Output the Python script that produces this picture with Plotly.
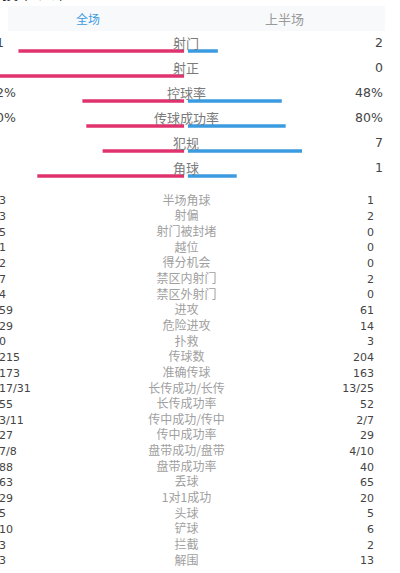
import plotly.graph_objects as go

# ---------------- data ----------------
bar_labels = ["射门", "射正", "控球率", "传球成功率", "犯规", "角球"]
bar_left = [11, 3, 52, 80, 5, 3]
bar_right = [2, 0, 48, 80, 7, 1]
bar_is_pct = [False, False, True, True, False, False]

table_labels = ["半场角球", "射偏", "射门被封堵", "越位", "得分机会", "禁区内射门",
                "禁区外射门", "进攻", "危险进攻", "扑救", "传球数", "准确传球",
                "长传成功/长传", "长传成功率", "传中成功/传中", "传中成功率",
                "盘带成功/盘带", "盘带成功率", "丢球", "1对1成功", "头球", "铲球",
                "拦截", "解围"]
table_left = ["3", "3", "5", "1", "2", "7", "4", "59", "29", "0", "215", "173",
              "17/31", "55", "3/11", "27", "7/8", "88", "63", "29", "5", "10", "3", "3"]
table_right = ["1", "2", "0", "0", "0", "2", "0", "61", "14", "3", "204", "163",
               "13/25", "52", "2/7", "29", "4/10", "40", "65", "20", "5", "6", "2", "13"]

tabs = ["全场", "上半场"]
title_text = "技术统计"

# ---------------- style ----------------
W, H = 400, 573
PINK = "#e0326e"
BLUE = "#3b9be0"
CJK = "Noto Sans CJK SC"
NUM = "DejaVu Sans, Noto Sans"
HALF = 196.0          # px for share = 1
PINK_END = 184.3      # px, where pink bars end (center)
BLUE_START = 187.7    # px, where blue bars start
BAR_Y0, BAR_STEP = 51.0, 25.0
TAB_Y0, TAB_STEP = 201.7, 15.65

left_share = [l / (l + r) if (l + r) else 0 for l, r in zip(bar_left, bar_right)]
right_share = [r / (l + r) if (l + r) else 0 for l, r in zip(bar_left, bar_right)]
rows = list(range(len(bar_labels)))

fig = go.Figure()
fig.add_trace(go.Bar(x=[-s for s in left_share], y=rows, orientation="h",
                     xaxis="x2", yaxis="y2", width=3.4 / BAR_STEP,
                     marker=dict(color=PINK, line=dict(width=0)), hoverinfo="skip"))
fig.add_trace(go.Bar(x=right_share, y=rows, orientation="h",
                     xaxis="x3", yaxis="y2", width=3.4 / BAR_STEP,
                     marker=dict(color=BLUE, line=dict(width=0)), hoverinfo="skip"))

def fmt(v, pct):
    return f"{v}%" if pct else f"{v}"

ann = []
for i, lab in enumerate(bar_labels):
    ann.append(dict(x=186, y=i - 8.5 / BAR_STEP, xref="x", yref="y2", text=lab,
                    showarrow=False, xanchor="center", yanchor="middle",
                    font=dict(family=CJK, size=13, color="#7a7a7a")))
    ann.append(dict(x=0, xshift=-14, y=i - 8.5 / BAR_STEP, xref="x", yref="y2",
                    text=fmt(bar_left[i], bar_is_pct[i]), showarrow=False,
                    xanchor="left", yanchor="middle",
                    font=dict(family=NUM, size=12.5, color="#444444")))
    ann.append(dict(x=385, y=i - 8.5 / BAR_STEP, xref="x", yref="y2",
                    text=fmt(bar_right[i], bar_is_pct[i]), showarrow=False,
                    xanchor="right", yanchor="middle",
                    font=dict(family=NUM, size=12.5, color="#444444")))

trows = list(range(len(table_labels)))
fig.add_trace(go.Scatter(x=[186.5] * len(trows), y=trows, mode="text", text=table_labels,
                         textposition="middle center", xaxis="x", yaxis="y3",
                         textfont=dict(family=CJK, size=12, color="#a0a0a0"),
                         hoverinfo="skip"))
fig.add_trace(go.Scatter(x=[-1] * len(trows), y=trows, mode="text", text=table_left,
                         textposition="middle right", xaxis="x", yaxis="y3",
                         textfont=dict(family=NUM, size=11, color="#444444"),
                         hoverinfo="skip"))
fig.add_trace(go.Scatter(x=[374] * len(trows), y=trows, mode="text", text=table_right,
                         textposition="middle left", xaxis="x", yaxis="y3",
                         textfont=dict(family=NUM, size=11, color="#444444"),
                         hoverinfo="skip"))

# header
ann.append(dict(x=88, y=18, xref="x", yref="y", text=tabs[0], showarrow=False,
                font=dict(family=CJK, size=12, color=BLUE)))
ann.append(dict(x=284, y=18, xref="x", yref="y", text=tabs[1], showarrow=False,
                font=dict(family=CJK, size=13, color="#9a9a9a")))
ann.append(dict(x=0, y=0, yshift=8, xref="x", yref="y", text=title_text, showarrow=False,
                xanchor="left", yanchor="middle",
                font=dict(family=CJK, size=16, color="#222222")))

shapes = [dict(type="rect", xref="x", yref="y", x0=8, x1=385, y0=6, y1=31,
               fillcolor="#f8f9fb", line=dict(width=0), layer="below")]

hidden = dict(visible=False, showgrid=False, zeroline=False, fixedrange=True)
fig.update_layout(
    width=W, height=H, margin=dict(l=0, r=0, t=0, b=0),
    paper_bgcolor="white", plot_bgcolor="rgba(0,0,0,0)", showlegend=False,
    barmode="overlay",
    xaxis=dict(range=[0, W], domain=[0, 1], **hidden),
    yaxis=dict(range=[H, 0], domain=[0, 1], **hidden),
    xaxis2=dict(range=[-PINK_END / HALF, 0], domain=[0, PINK_END / W],
                anchor="y2", **hidden),
    xaxis3=dict(range=[0, (W - BLUE_START) / HALF], domain=[BLUE_START / W, 1],
                anchor="y2", **hidden),
    yaxis2=dict(range=[(H - BAR_Y0) / BAR_STEP, -BAR_Y0 / BAR_STEP], domain=[0, 1],
                anchor="x2", **hidden),
    yaxis3=dict(range=[(H - TAB_Y0) / TAB_STEP, -TAB_Y0 / TAB_STEP], domain=[0, 1],
                anchor="x", overlaying="y", **hidden),
    annotations=ann, shapes=shapes,
)
fig.write_html("out.html", config={"displayModeBar": False},
               post_script="document.body.style.margin='0';document.body.style.overflow='hidden';")
